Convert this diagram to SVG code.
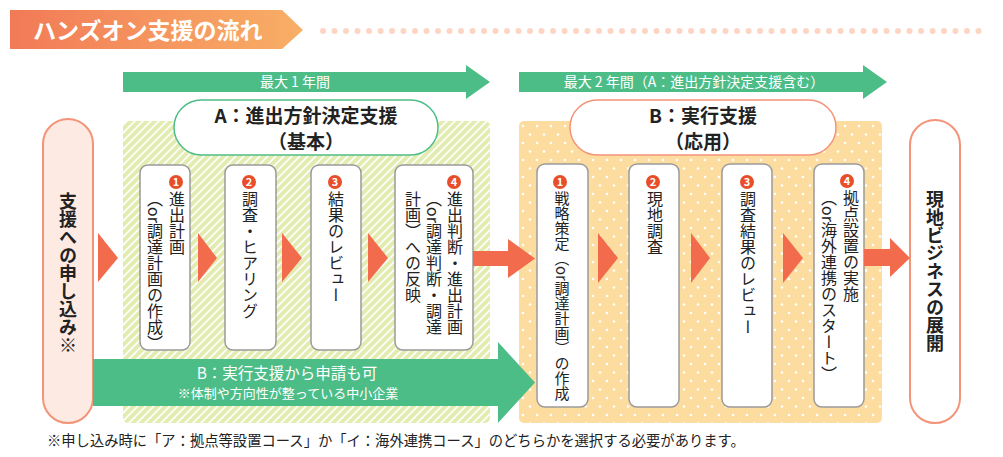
<svg xmlns="http://www.w3.org/2000/svg" width="1003" height="457" viewBox="0 0 1003 457">
<defs>
<linearGradient id="tg" x1="0" y1="0" x2="1" y2="0">
<stop offset="0" stop-color="#F27A57"/>
<stop offset="1" stop-color="#F8AF66"/>
</linearGradient>
<pattern id="hatch" patternUnits="userSpaceOnUse" width="8" height="8">
<rect width="8" height="8" fill="#E3ECB0"/>
<path d="M-2,2 L2,-2 M0,8 L8,0 M6,10 L10,6" stroke="#FFFFFF" stroke-width="1.6"/>
</pattern>
<pattern id="dots" patternUnits="userSpaceOnUse" width="14" height="17" x="519" y="121">
<rect width="14" height="17" fill="#FDDC9F"/>
<circle cx="4" cy="5" r="1.3" fill="#FFFFFF"/>
<circle cx="11" cy="13.5" r="1.3" fill="#FFFFFF"/>
</pattern>
<style>
text{font-family:"Noto Sans CJK JP","Noto Sans",sans-serif;}
.v{writing-mode:vertical-rl;font-size:16px;fill:#222;}
.vb{writing-mode:vertical-rl;font-size:18px;font-weight:bold;fill:#222;}
.box{fill:#FFFFFF;stroke:#9A9A9A;stroke-width:1.5;}
.num{fill:#E84E29;}
.numt{fill:#FFFFFF;font-size:11px;font-weight:bold;text-anchor:middle;}
.grn{fill:#4DBD88;}
.org{fill:#F26B4C;}
.wt{fill:#FFFFFF;text-anchor:middle;}
.lbl{font-size:19px;font-weight:bold;fill:#222;text-anchor:middle;}
</style>
</defs>
<rect width="1003" height="457" fill="#FFFFFF"/>

<g id="title">
<polygon points="10,10 282,10 303,30 282,49 10,49" fill="url(#tg)"/>
<text x="33" y="39" font-size="23" font-weight="bold" fill="#FFFFFF">ハンズオン支援の流れ</text>
<line x1="323" y1="31" x2="990" y2="31" stroke="#FDD5C3" stroke-width="6" stroke-linecap="round" stroke-dasharray="0 11.5"/>
</g>

<g id="period-a">
<polygon class="grn" points="123,72 466,72 466,65 490,82 466,99 466,92 123,92"/>
<text class="wt" x="295" y="87" font-size="14">最大 1 年間</text>
</g>
<g id="period-b">
<polygon class="grn" points="519,72 863,72 863,65 887,82 863,99 863,92 519,92"/>
<text class="wt" x="694" y="87" font-size="14">最大 2 年間（A：進出方針決定支援含む）</text>
</g>

<g id="panel-a">
<rect x="123" y="121" width="367" height="302" rx="5" fill="url(#hatch)"/>
</g>
<g id="panel-b">
<rect x="519" y="121" width="363" height="302" rx="5" fill="url(#dots)"/>
</g>

<g id="label-a">
<rect x="174" y="100" width="264" height="55" rx="27.5" fill="#FFFFFF" stroke="#4DBD88" stroke-width="1.5"/>
<text class="lbl" x="306" y="123">A：進出方針決定支援</text>
<text class="lbl" x="306" y="149">（基本）</text>
</g>
<g id="label-b">
<rect x="570" y="100" width="266" height="55" rx="27.5" fill="#FFFFFF" stroke="#F39479" stroke-width="1.5"/>
<text class="lbl" x="703" y="123">B：実行支援</text>
<text class="lbl" x="703" y="149">（応用）</text>
</g>

<g id="apply">
<rect x="43" y="119" width="50" height="304" rx="25" fill="#FDEAE2" stroke="#F39479" stroke-width="2"/>
<text class="vb" x="68" y="192">支援への申し込み※</text>
</g>

<g id="a1">
<rect class="box" x="140" y="165" width="50" height="185" rx="8"/>
<circle class="num" cx="176" cy="182" r="7"/><text class="numt" x="176" y="186">1</text>
<text class="v" x="177" y="191">進出計画</text>
<text class="v" x="155" y="191">（or調達計画の作成）</text>
</g>
<g id="a2">
<rect class="box" x="225" y="165" width="51" height="185" rx="8"/>
<circle class="num" cx="249" cy="182" r="7"/><text class="numt" x="249" y="186">2</text>
<text class="v" x="250" y="191">調査・ヒアリング</text>
</g>
<g id="a3">
<rect class="box" x="311" y="165" width="50" height="185" rx="8"/>
<circle class="num" cx="335" cy="182" r="7"/><text class="numt" x="335" y="186">3</text>
<text class="v" x="336" y="191">結果のレビュー</text>
</g>
<g id="a4">
<rect class="box" x="395" y="165" width="78" height="185" rx="8"/>
<circle class="num" cx="454" cy="182" r="7"/><text class="numt" x="454" y="186">4</text>
<text class="v" x="455" y="191">進出判断・進出計画</text>
<text class="v" x="434" y="191">（or調達判断・調達</text>
<text class="v" x="413" y="191">計画）への反映</text>
</g>

<g id="b1">
<rect class="box" x="537" y="164" width="51" height="243" rx="8"/>
<circle class="num" cx="560" cy="182" r="7"/><text class="numt" x="560" y="186">1</text>
<text class="v" x="562" y="191" font-size="15" style="font-size:15px">戦略策定（or調達計画）の作成</text>
</g>
<g id="b2">
<rect class="box" x="629" y="164" width="50" height="243" rx="8"/>
<circle class="num" cx="653" cy="182" r="7"/><text class="numt" x="653" y="186">2</text>
<text class="v" x="655" y="191">現地調査</text>
</g>
<g id="b3">
<rect class="box" x="722" y="164" width="50" height="243" rx="8"/>
<circle class="num" cx="747" cy="182" r="7"/><text class="numt" x="747" y="186">3</text>
<text class="v" x="748" y="191">調査結果のレビュー</text>
</g>
<g id="b4">
<rect class="box" x="814" y="164" width="50" height="243" rx="8"/>
<circle class="num" cx="847" cy="181" r="7"/><text class="numt" x="847" y="185">4</text>
<text class="v" x="851" y="190">拠点設置の実施</text>
<text class="v" x="829" y="190">（or海外連携のスタート）</text>
</g>

<g id="business">
<rect x="910" y="120" width="50" height="303" rx="25" fill="#FFFFFF" stroke="#F39479" stroke-width="2"/>
<text class="vb" x="935" y="190">現地ビジネスの展開</text>
</g>

<g id="connectors">
<polygon class="org" points="98,233 118,258 98,282"/>
<polygon class="org" points="198,233 217,258 198,282"/>
<polygon class="org" points="282,233 302,258 282,282"/>
<polygon class="org" points="368,233 388,258 368,282"/>
<polygon class="org" points="473,251 508,251 508,239 535,258.5 508,278 508,266 473,266"/>
<polygon class="org" points="598,233 618,258 598,283"/>
<polygon class="org" points="691,233 710,258 691,283"/>
<polygon class="org" points="783,233 803,258 783,283"/>
<polygon class="org" points="864,249 890,249 890,238 910,258 890,277 890,266 864,266"/>
<polygon class="grn" points="93,359 498,359 498,342 535,382.5 498,423 498,406 93,406"/>
<text class="wt" x="287" y="379" font-size="15.5">B：実行支援から申請も可</text>
<text class="wt" x="288" y="398" font-size="13">※体制や方向性が整っている中小企業</text>
</g>

<g id="footnote">
<text x="47" y="446" font-size="14.3" fill="#222">※申し込み時に「ア：拠点等設置コース」か「イ：海外連携コース」のどちらかを選択する必要があります。</text>
</g>
</svg>
